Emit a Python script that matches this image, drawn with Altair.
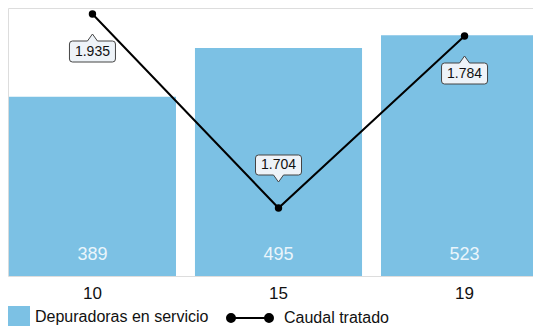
import altair as alt
import pandas as pd

anios = ["10", "15", "19"]
depuradoras = [389, 495, 523]
caudal = [1935, 1704, 1784]

serie_barras = "Depuradoras en servicio"
serie_linea = "Caudal tratado"

df = pd.DataFrame({
    "anio": anios,
    "depuradoras": depuradoras,
    "caudal": caudal,
})
df["serie_b"] = serie_barras
df["serie_l"] = serie_linea
df["caudal_txt"] = [f"{v:,}".replace(",", ".") for v in caudal]
df["pos"] = ["arriba" if v == min(caudal) else "abajo" for v in caudal]

FONT = "Liberation Sans"
BLUE = "#7cc1e4"

x_enc = alt.X("anio:N", sort=anios,
              scale=alt.Scale(range=[0, 541], paddingInner=0.102, paddingOuter=0.005),
              axis=alt.Axis(title=None, labelAngle=0, ticks=False, domain=False,
                            labelFontSize=17, labelColor="#111", labelPadding=9,
                            labelFont=FONT))

y_bar = alt.Y("depuradoras:Q", scale=alt.Scale(domain=[0, 582], nice=False), axis=None)

bars = alt.Chart(df).mark_bar().encode(
    x=x_enc,
    y=y_bar,
    fill=alt.Fill("serie_b:N", scale=alt.Scale(range=[BLUE]),
                  legend=alt.Legend(title=None, orient="none", legendX=0, legendY=298,
                                    symbolType="square", symbolSize=484,
                                    symbolStrokeWidth=0, labelFontSize=16,
                                    labelFont=FONT, labelColor="#111",
                                    labelOffset=5, labelLimit=400, padding=0)),
)

bar_labels = alt.Chart(df).mark_text(
    dy=-21, fontSize=18, color="#eaf5fb", font=FONT, baseline="middle"
).encode(
    x=alt.X("anio:N", sort=anios),
    y=alt.datum(0),
    text="depuradoras:Q",
)

bar_layer = alt.layer(bars, bar_labels)

y_line = alt.Y("caudal:Q",
               scale=alt.Scale(domain=[1704, 1784, 1935], range=[200, 28, 6],
                               nice=False, zero=False),
               axis=None)

line_sym = ("M-1,0L1,0"
            "M-0.79,0A0.21,0.21 0 1,1 -1.21,0A0.21,0.21 0 1,1 -0.79,0"
            "M1.21,0A0.21,0.21 0 1,1 0.79,0A0.21,0.21 0 1,1 1.21,0")

line = alt.Chart(df).mark_line(strokeWidth=2).encode(
    x=alt.X("anio:N", sort=anios),
    y=y_line,
    stroke=alt.Stroke("serie_l:N", scale=alt.Scale(range=["black"]),
                      legend=alt.Legend(title=None, orient="none", legendX=222, legendY=290,
                                        symbolType=line_sym, symbolSize=1444,
                                        symbolStrokeWidth=2, symbolFillColor="black",
                                        labelFontSize=16, labelFont=FONT,
                                        labelColor="#111", labelOffset=14,
                                        labelLimit=400, padding=0)),
)

points = alt.Chart(df).mark_point(filled=True, size=55, color="black", opacity=1).encode(
    x=alt.X("anio:N", sort=anios),
    y=y_line,
)

path_abajo = ("M-20,27L-5,27L0,20L5,27L20,27Q23,27 23,30L23,45Q23,48 20,48"
              "L-20,48Q-23,48 -23,45L-23,30Q-23,27 -20,27Z")
path_arriba = ("M-20,-53L20,-53Q23,-53 23,-50L23,-36Q23,-33 20,-33L5,-33L0,-26L-5,-33"
               "L-20,-33Q-23,-33 -23,-36L-23,-50Q-23,-53 -20,-53Z")

base = alt.Chart(df).encode(x=alt.X("anio:N", sort=anios), y=y_line)

box_abajo = base.mark_point(shape=path_abajo, size=4, filled=True, fill="#eef3f8",
                            stroke="#444", strokeWidth=1, opacity=1).transform_filter(
    alt.datum.pos == "abajo")
box_arriba = base.mark_point(shape=path_arriba, size=4, filled=True, fill="#eef3f8",
                             stroke="#444", strokeWidth=1, opacity=1).transform_filter(
    alt.datum.pos == "arriba")

txt_abajo = base.mark_text(dy=38, fontSize=14, font=FONT, color="#111",
                           baseline="middle").encode(text="caudal_txt:N").transform_filter(
    alt.datum.pos == "abajo")
txt_arriba = base.mark_text(dy=-43, fontSize=14, font=FONT, color="#111",
                            baseline="middle").encode(text="caudal_txt:N").transform_filter(
    alt.datum.pos == "arriba")

line_layer = alt.layer(line, points, box_abajo, box_arriba, txt_abajo, txt_arriba)

chart = alt.layer(bar_layer, line_layer).resolve_scale(
    y="independent", fill="independent", stroke="independent"
).properties(
    width=525, height=268,
    autosize=alt.AutoSizeParams(type="none"),
    padding={"left": 0, "top": 0, "right": 0, "bottom": 50},
).configure_view(stroke=None).configure(font=FONT)

chart.save("out.html", embed_options={"renderer": "svg", "actions": False})
